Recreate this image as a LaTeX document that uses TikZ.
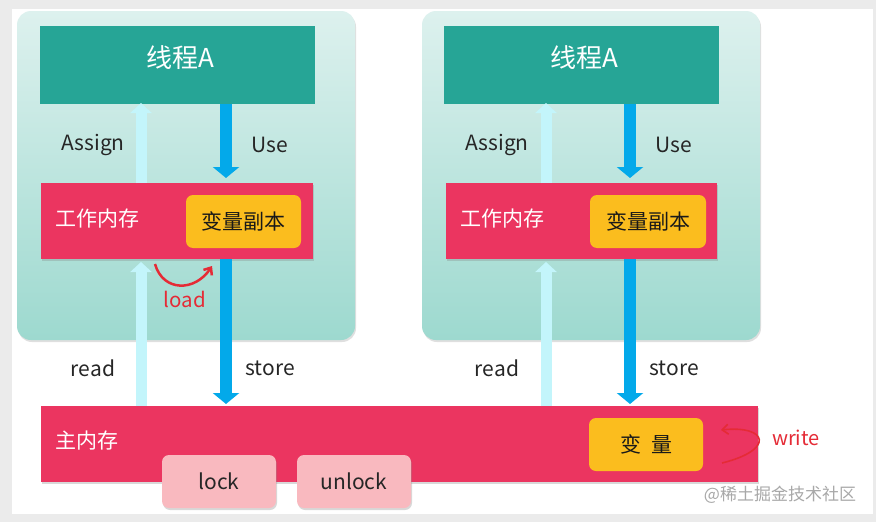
\documentclass[tikz,border=0pt]{standalone}
\usepackage{fontspec}
\setmainfont{Noto Sans CJK SC}
\usetikzlibrary{arrows.meta,shadows,positioning}
\definecolor{bggray}{HTML}{EBEBEB}
\definecolor{panelTop}{HTML}{DDF1EE}
\definecolor{panelBot}{HTML}{9DD9CF}
\definecolor{threadc}{HTML}{26A596}
\definecolor{memc}{HTML}{EB3560}
\definecolor{varc}{HTML}{FBBD1E}
\definecolor{lockc}{HTML}{F9B9BF}
\definecolor{upc}{HTML}{C3F5FB}
\definecolor{downc}{HTML}{03A9EA}
\definecolor{redc}{HTML}{E52B36}
\definecolor{wmc}{HTML}{A8A8A8}
\tikzset{
  panel/.style={rounded corners=14pt, top color=panelTop, bottom color=panelBot, drop shadow={shadow xshift=1pt, shadow yshift=-2pt, opacity=.25}},
  threadbox/.style={fill=threadc},
  membox/.style={fill=memc, drop shadow={shadow xshift=1pt, shadow yshift=-2pt, opacity=.3}},
  varbox/.style={fill=varc, rounded corners=7pt},
  lockbox/.style={fill=lockc, rounded corners=7pt, drop shadow={shadow xshift=1pt, shadow yshift=-2pt, opacity=.3}},
  uparrow/.style={draw=upc, line width=11pt, -{Triangle[width=21pt,length=10pt]}},
  downarrow/.style={draw=downc, line width=12pt, -{Triangle[width=26pt,length=11pt]}},
  lbl/.style={font=\fontsize{21}{23}\selectfont, text=black!85},
  wlbl/.style={font=\fontsize{21}{23}\selectfont, text=white},
  cjk/.style={font=\fontsize{21}{23}\selectfont, text=black!90},
  redarrow/.style={draw=redc, line width=2.5pt, -{Straight Barb[length=6pt,width=10pt]}},
}
\begin{document}
\begin{tikzpicture}[x=1pt,y=-1pt]
\useasboundingbox (0,0) rectangle (876,522);
\fill[bggray] (0,0) rectangle (876,522);
\fill[white] (12,9) rectangle (873,514);

% panels
\foreach \dx/\n in {0/L,405/R}{
  \begin{scope}[xshift=\dx pt]
  \path[panel] (17,11) rectangle (355,340);
  \end{scope}
}

% left column
\node[threadbox, minimum width=275pt, minimum height=78pt, inner sep=0pt] (thL) at (177.5,65) {};
\node[text=white, font=\fontsize{26}{28}\selectfont] (thLt) at (180,58) {线程A};
\node[membox, minimum width=272pt, minimum height=76pt, inner sep=0pt] (wmL) at (177,221) {};
\node[wlbl, anchor=west] (wmLt) at (52,219) {工作内存};
\node[varbox, minimum width=115pt, minimum height=53pt, inner sep=0pt, cjk] (vcL) at (243.5,221.5) {变量副本};

% right column
\node[threadbox, minimum width=275pt, minimum height=78pt, inner sep=0pt] (thR) at (581.5,65) {};
\node[text=white, font=\fontsize{26}{28}\selectfont] (thRt) at (584,58) {线程A};
\node[membox, minimum width=271pt, minimum height=76pt, inner sep=0pt] (wmR) at (581.5,221) {};
\node[wlbl, anchor=west] (wmRt) at (457,219) {工作内存};
\node[varbox, minimum width=116pt, minimum height=53pt, inner sep=0pt, cjk] (vcR) at (648,221.5) {变量副本};

% main memory
\node[membox, minimum width=717pt, minimum height=76pt, inner sep=0pt] (mm) at (399.5,444) {};
\node[wlbl, anchor=west] (mmt) at (52,441) {主内存};
\node[lockbox, minimum width=114pt, minimum height=53pt, inner sep=0pt, lbl] (lock) at (219,481.5) {lock};
\node[lockbox, minimum width=114pt, minimum height=53pt, inner sep=0pt, lbl] (unlock) at (354,481.5) {unlock};
\node[varbox, minimum width=114pt, minimum height=53pt, inner sep=0pt, cjk] (var) at (646,444.5) {变\hspace{10pt}量};

% arrow anchor coordinates
\coordinate (aLs) at (141,183);  \coordinate (aLe) at (141,103);
\coordinate (uLs) at (226,104);  \coordinate (uLe) at (226,178);
\coordinate (rLs) at (141,406);  \coordinate (rLe) at (141,262);
\coordinate (sLs) at (226,259);  \coordinate (sLe) at (226,404);
\coordinate (aRs) at (546,183);  \coordinate (aRe) at (546,103);
\coordinate (uRs) at (630,104);  \coordinate (uRe) at (630,178);
\coordinate (rRs) at (546,406);  \coordinate (rRe) at (546,262);
\coordinate (sRs) at (630,259);  \coordinate (sRe) at (630,404);

\draw[uparrow] (aLs) -- (aLe);
\draw[downarrow] (uLs) -- (uLe);
\draw[uparrow] (rLs) -- (rLe);
\draw[downarrow] (sLs) -- (sLe);
\draw[uparrow] (aRs) -- (aRe);
\draw[downarrow] (uRs) -- (uRe);
\draw[uparrow] (rRs) -- (rRe);
\draw[downarrow] (sRs) -- (sRe);

% labels
\node[lbl] (asL) at (93,145) {Assign};
\node[lbl] (usL) at (270,145) {Use};
\node[lbl] (rdL) at (93,368) {read};
\node[lbl] (stL) at (270,368) {store};
\node[lbl] (asR) at (497,145) {Assign};
\node[lbl] (usR) at (674,145) {Use};
\node[lbl] (rdR) at (497,368) {read};
\node[lbl] (stR) at (674,368) {store};

% load
\coordinate (ldA) at (155,264);
\coordinate (ldB) at (212,266);
\draw[redarrow] (ldA) .. controls (163,292) and (195,292) .. (ldB);
\node[font=\fontsize{20.5}{22}\selectfont, text=redc] (load) at (185,299) {load};

% write
\coordinate (wA) at (722,463);
\coordinate (wB) at (721,430);
\draw[draw=redc, line width=1.6pt, -{Straight Barb[length=6pt,width=10pt]}] (wA) .. controls (775,450) and (768,425) .. (wB);
\node[font=\fontsize{20}{22}\selectfont, text=redc] (write) at (796,438) {write};

% watermark
\node[font=\fontsize{17}{19}\selectfont, text=wmc] (wm) at (780,495) {@稀土掘金技术社区};
\end{tikzpicture}
\end{document}
